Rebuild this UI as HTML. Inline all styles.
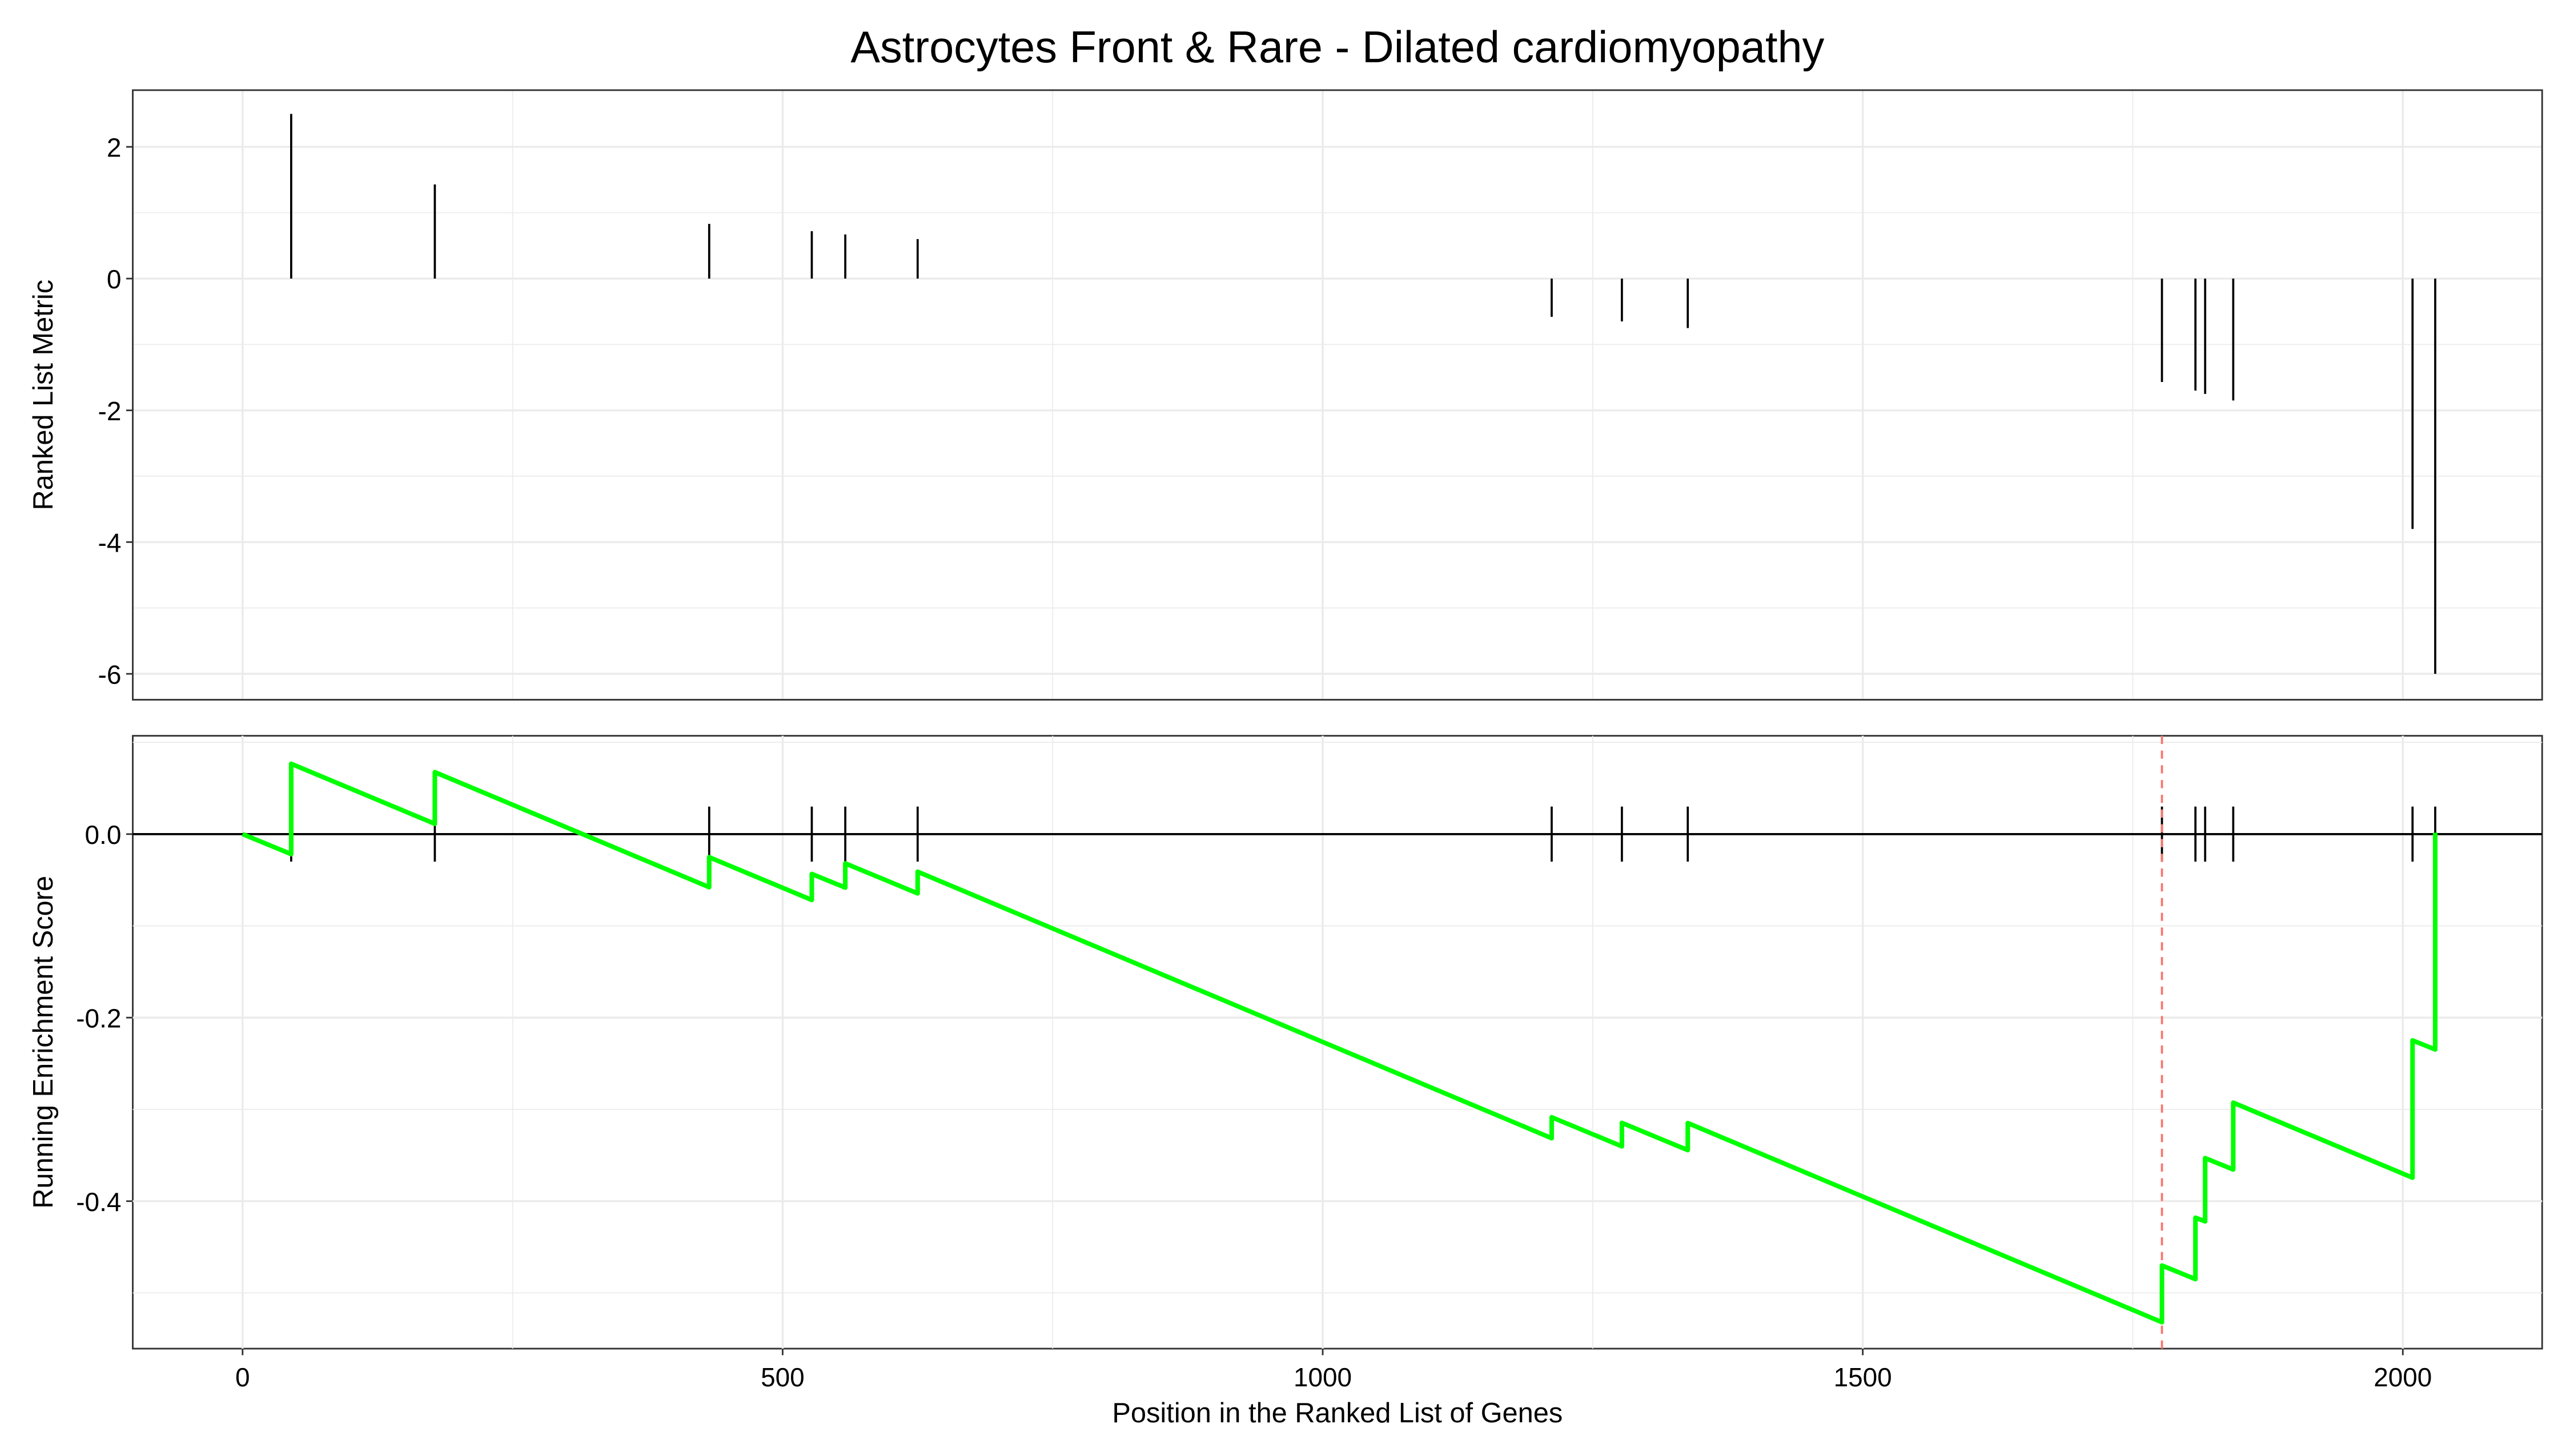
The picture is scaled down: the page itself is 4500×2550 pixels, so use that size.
<!DOCTYPE html>
<html><head><meta charset="utf-8"><style>
html,body{margin:0;padding:0;background:#fff}
svg{display:block}
text{font-family:"Liberation Sans",Arial,sans-serif}
</style></head><body>
<svg id="chart" width="4500" height="2550" viewBox="0 0 1568 888.5" xmlns="http://www.w3.org/2000/svg">
<rect width="1568" height="888.5" fill="#fff"/>
<text x="816" y="38" font-size="27" text-anchor="middle">Astrocytes Front &amp; Rare - Dilated cardiomyopathy</text>
<g id="topPanel"></g>
<g id="botPanel"></g>
<g id="xax"></g>
<text x="816" y="868" font-size="17" text-anchor="middle">Position in the Ranked List of Genes</text>
<text transform="translate(32,241) rotate(-90)" font-size="17" text-anchor="middle">Ranked List Metric</text>
<text transform="translate(32,636) rotate(-90)" font-size="17" text-anchor="middle">Running Enrichment Score</text>
</svg>
<script>
const hitPositions=[45,178,432,527,558,625,1212,1277,1338,1777,1808,1817,1843,2009,2030];
const hitMetrics=[2.5,1.43,0.83,0.72,0.67,0.6,-0.58,-0.65,-0.75,-1.57,-1.7,-1.75,-1.85,-3.8,-6.0];
const totalGenes=2033;
const xTicks=[0,500,1000,1500,2000];
const xMinor=[250,750,1250,1750];
const topYTicks=[2,0,-2,-4,-6];
const topYMinor=[1,-1,-3,-5];
const botYTicks=[0.0,-0.2,-0.4];
const botYMinor=[0.1,-0.1,-0.3,-0.5];
const maxPosition=1777;

const NS="http://www.w3.org/2000/svg";
const L=81,R=1551;
const xS=v=>148+v*(1466-148)/2000;
const yT=v=>170-v*40.2;
const yB=v=>509-v*560;
function mk(p,t,a){const e=document.createElementNS(NS,t);for(const k in a)e.setAttribute(k,a[k]);p.appendChild(e);return e;}
const topG=document.getElementById('topPanel'),botG=document.getElementById('botPanel'),xax=document.getElementById('xax');
function panel(g,y0,y1,yf,maj,min,fmt){
  for(const v of xMinor){const l=mk(g,'line',{x1:xS(v),x2:xS(v),y1:y0,y2:y1,stroke:'#ebebeb','stroke-width':0.6});
    
    }
  for(const v of min){const l=mk(g,'line',{x1:L,x2:R,y1:yf(v),y2:yf(v),stroke:'#ebebeb','stroke-width':0.6});
    
    }
  for(const v of xTicks){const l=mk(g,'line',{x1:xS(v),x2:xS(v),y1:y0,y2:y1,stroke:'#ebebeb','stroke-width':1.2});
    
    }
  for(const v of maj){const l=mk(g,'line',{x1:L,x2:R,y1:yf(v),y2:yf(v),stroke:'#ebebeb','stroke-width':1.2});
    
    
    const tk=mk(g,'line',{x1:L-4,x2:L,y1:yf(v),y2:yf(v),stroke:'#333','stroke-width':1});
    
    
    const t=mk(g,'text',{x:L-7,y:yf(v)+6,'font-size':16,'text-anchor':'end',fill:'#000'});t.textContent=fmt(v);
    
    }
}
panel(topG,55,427,yT,topYTicks,topYMinor,v=>String(v));
panel(botG,449,823,yB,botYTicks,botYMinor,v=>v.toFixed(1));
hitPositions.forEach((p,i)=>{const l=mk(topG,'line',{x1:xS(p),x2:xS(p),y1:yT(0),y2:yT(hitMetrics[i]),stroke:'#000','stroke-width':1.3});
  
  });
const zl=mk(botG,'line',{x1:L,x2:R,y1:yB(0),y2:yB(0),stroke:'#000','stroke-width':1.3});


hitPositions.forEach(p=>{const l=mk(botG,'line',{x1:xS(p),x2:xS(p),y1:yB(0.03),y2:yB(-0.03),stroke:'#000','stroke-width':1.3});
  
  });
const rl=mk(botG,'line',{x1:xS(maxPosition),x2:xS(maxPosition),y1:449,y2:823,stroke:'#f8766d','stroke-width':1.3,'stroke-dasharray':'5,4'});


const sumAbs=hitMetrics.reduce((a,b)=>a+Math.abs(b),0);
const miss=1/(totalGenes-hitPositions.length);
let es=0,prev=0,pts=[[0,0]];
hitPositions.forEach((p,i)=>{es-=miss*(p-prev-1);pts.push([p,es]);es+=Math.abs(hitMetrics[i])/sumAbs;pts.push([p,es]);prev=p;});
const pl=mk(botG,'polyline',{points:pts.map(q=>xS(q[0])+','+yB(q[1])).join(' '),fill:'none',stroke:'#00ff00','stroke-width':2.8,'stroke-linejoin':'round'});


[[55,427],[449,823]].forEach(([a,b])=>{const r=mk(topG,'rect',{x:L,y:a,width:R-L,height:b-a,fill:'none',stroke:'#333','stroke-width':1});
  
  });
xTicks.forEach(v=>{const tk=mk(xax,'line',{x1:xS(v),x2:xS(v),y1:823,y2:827,stroke:'#333','stroke-width':1});
  
  
  const t=mk(xax,'text',{x:xS(v),y:846,'font-size':16,'text-anchor':'middle',fill:'#000'});t.textContent=v;
  
  });
</script>
</body></html>
